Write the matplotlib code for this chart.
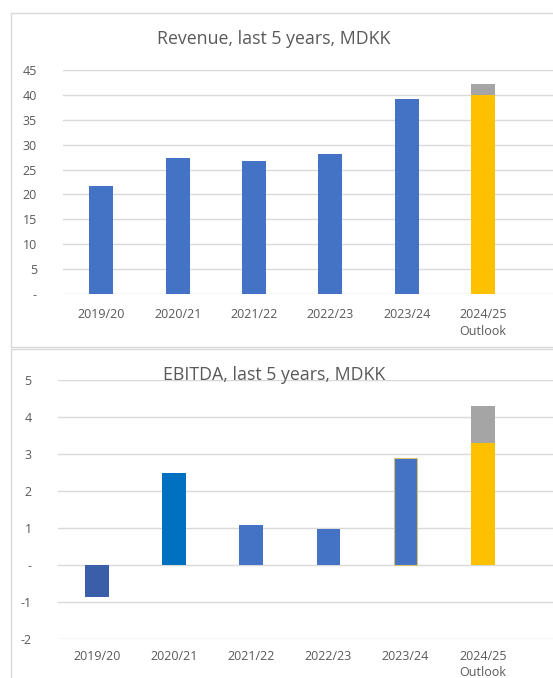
import matplotlib.pyplot as plt
from matplotlib.patches import Rectangle
from matplotlib.ticker import FuncFormatter

plt.rcParams['font.family'] = ['Open Sans', 'DejaVu Sans']

years = ['2019/20', '2020/21', '2021/22', '2022/23', '2023/24', '2024/25\nOutlook']

# revenue, MDKK (last bar: outlook low end + range on top)
revenue = [21.6, 27.4, 26.8, 28.1, 39.2, 40.0]
revenue_range = [0, 0, 0, 0, 0, 2.1]

# EBITDA, MDKK
ebitda = [-0.86, 2.5, 1.09, 0.96, 2.9, 3.3]
ebitda_range = [0, 0, 0, 0, 0, 1.0]

blue = '#4472C4'
yellow = '#FFC000'
grey = '#A5A5A5'
txt = '#595959'
grid = '#D9D9D9'

W, H = 553, 678
fig = plt.figure(figsize=(W / 100, H / 100), dpi=100)


def px(x0, y0, x1, y1):
    # pixel box (top-left origin) -> figure fraction rect
    return [x0 / W, 1 - y1 / H, (x1 - x0) / W, (y1 - y0) / H]


def dash_zero(v, pos):
    if abs(v) < 1e-9:
        return '-'
    return '%d' % v


def style(ax, ylo, yhi, step, xmax, ls=1.45, xpad=10):
    ax.set_ylim(ylo, yhi)
    ax.set_yticks(range(ylo, yhi + 1, step))
    ax.yaxis.set_major_formatter(FuncFormatter(dash_zero))
    ax.set_xlim(-0.5, xmax)
    ax.set_xticks(range(len(years)))
    ax.set_xticklabels(years, linespacing=ls)
    ax.grid(axis='y', color=grid, linewidth=1)
    ax.set_axisbelow(True)
    for s in ax.spines.values():
        s.set_visible(False)
    ax.tick_params(axis='both', length=0, colors=txt, labelsize=9)
    ax.tick_params(axis='y', pad=19)
    ax.tick_params(axis='x', pad=xpad)
    ax.set_facecolor('none')


# panel frames
fig.patches.append(Rectangle((11 / W, 1 - 347 / H), (570 - 11) / W, (347 - 13) / H,
                             transform=fig.transFigure, fill=False, edgecolor=grid, lw=1))
fig.patches.append(Rectangle((11 / W, 1 - 700 / H), (570 - 11) / W, (700 - 349) / H,
                             transform=fig.transFigure, fill=False, edgecolor=grid, lw=1))

# revenue
ax1 = fig.add_axes(px(63.3, 70, 553, 294))
c1 = [blue] * 5 + [yellow]
ax1.bar(range(len(years)), revenue, width=0.315, color=c1, zorder=2)
ax1.bar(range(len(years)), revenue_range, bottom=revenue, width=0.315, color=grey, zorder=2)
style(ax1, 0, 45, 5, -0.5 + (553 - 63.3) / 76.3)
fig.text(274 / W, 1 - 39 / H, 'Revenue, last 5 years, MDKK', ha='center', va='center',
         fontsize=12.8, color=txt)

# EBITDA
ax2 = fig.add_axes(px(58.2, 380, 553, 639))
c2 = ['#3A5EA8', '#0070C0', blue, blue, blue, yellow]
ax2.bar(range(len(years)), ebitda, width=0.307, color=c2, zorder=2)
ax2.bar(4, ebitda[4], width=0.307, color='none', edgecolor='#D9C36A', lw=0.8, zorder=3)
ax2.bar(range(len(years)), ebitda_range, bottom=ebitda, width=0.307, color=grey, zorder=2)
style(ax2, -2, 5, 1, -0.5 + (553 - 58.2) / 77.2, ls=1.25, xpad=8)
fig.text(274 / W, 1 - 375 / H, 'EBITDA, last 5 years, MDKK', ha='center', va='center',
         fontsize=12.8, color=txt)

fig.savefig('out.png', dpi=100, facecolor='white')
